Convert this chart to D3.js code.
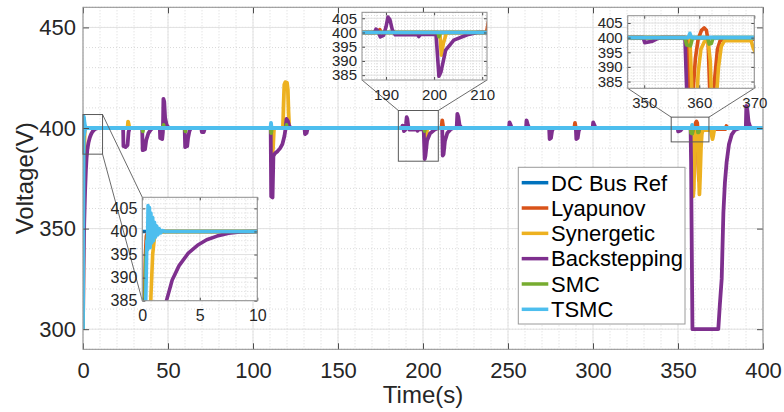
<!DOCTYPE html>
<html>
<head>
<meta charset="utf-8">
<script src="https://cdn.jsdelivr.net/npm/d3@7"></script>
<style>
  html, body { margin: 0; padding: 0; background: #ffffff; }
  svg { display: block; }
</style>
</head>
<body>
<svg id="chart" width="784" height="412"></svg>
<script>
// ---------------- data: DC bus voltage (V) against time (s) ----------------
const seriesNames = ["DC Bus Ref", "Lyapunov", "Synergetic", "Backstepping", "SMC", "TSMC"];

const dcBusRef = [[0, 400], [400, 400]];

const lyapunov = [
  [0, 300], [0.12, 365], [0.2, 385], [0.27, 395], [0.35, 399], [0.5, 400],
  [188.4, 400], [188.7, 401], [189.0, 400],
  [210.9, 400], [211.3, 403.8], [211.8, 401], [212.4, 400],
  [289.0, 400], [289.4, 402.5], [289.9, 400],
  [357.9, 400], [358.2, 384], [358.5, 376], [358.9, 382], [359.3, 393], [359.8, 399.5],
  [360.4, 402.5], [360.9, 403.3], [361.3, 402.5], [361.6, 399], [361.9, 382], [362.3, 374],
  [362.8, 386], [363.3, 396], [363.8, 399], [365, 399.5], [378, 399.5], [378.5, 401], [379, 400],
  [400, 400]
];

const synergetic = [
  [0, 300], [0.5, 362], [0.75, 386], [0.9, 395], [1.05, 398.5], [1.3, 400],
  [26.2, 400], [26.5, 403.2], [26.9, 402], [27.3, 400],
  [110.5, 400], [110.9, 392], [111.3, 387], [111.8, 390], [112.3, 399], [112.8, 400],
  [117.6, 400], [118.0, 412], [118.4, 421.5], [119, 422.8], [120, 422.5], [120.5, 419],
  [120.9, 408], [121.3, 401], [121.8, 400],
  [130.4, 400], [130.7, 398.5], [131.1, 400],
  [201.2, 400], [201.5, 392], [201.9, 396], [202.5, 399.5], [203, 400],
  [358.3, 400], [358.6, 385], [358.9, 366], [359.3, 370], [359.8, 388], [360.3, 396],
  [360.9, 398.5], [361.6, 399], [362.0, 392], [362.3, 376], [362.6, 367], [363.0, 376],
  [363.5, 390], [364.0, 397], [364.6, 399], [369.4, 399], [369.8, 396.5], [370.3, 394.5],
  [370.8, 396.5], [371.4, 399.5], [372, 400],
  [400, 400]
];

const backstepping = [
  [0, 300], [0.3, 330], [0.7, 352], [1.2, 368], [1.7, 379], [2.1, 385], [2.6, 389.5],
  [3.2, 392.6], [4.0, 395.3], [4.8, 397], [5.6, 398.2], [6.5, 399], [7.5, 399.6], [8.5, 399.9], [10, 400],
  [23.6, 400], [23.8, 391], [25, 390.5], [26.2, 391.5], [26.8, 398], [27.5, 400],
  [34.8, 400], [35.1, 389], [36.5, 389.5], [37.2, 394], [38.5, 397.5], [40, 399.3], [41, 400],
  [45.2, 400], [45.4, 395], [46.6, 394.5], [47.0, 398], [47.3, 414.5], [47.8, 413], [48.3, 405],
  [49.2, 401.5], [50.5, 400],
  [59.8, 400], [60.1, 390.5], [61.3, 391], [61.8, 395], [62.6, 398.5], [63.5, 400],
  [69.6, 400], [69.9, 398], [71, 398], [71.6, 399.5], [72.2, 400],
  [110.4, 400], [110.7, 366], [111.5, 365.5], [112.0, 386], [113, 387.5], [114.5, 388.5],
  [116, 390], [117.3, 392], [118.5, 396], [119.2, 400], [119.7, 404.5], [120.5, 403.5],
  [121.3, 401], [122.2, 400],
  [130.3, 400], [130.6, 397], [131.5, 397.5], [132.2, 400],
  [187.6, 400], [187.9, 401.2], [188.3, 400.5], [188.8, 398.5], [189.5, 399], [190.0, 402],
  [190.4, 405.4], [190.8, 404.5], [191.3, 401], [191.9, 399.2], [196.5, 399.3], [196.8, 398.6],
  [197.2, 399.3], [200.4, 399.3], [200.7, 392], [201.0, 384.6], [201.4, 386], [202.4, 393.8],
  [204.1, 397.3], [206.9, 399.2], [209, 400],
  [211.3, 400], [211.6, 386.3], [212.1, 387], [212.9, 393.5], [214.3, 397.5], [216.2, 399.3], [217.7, 400],
  [219.8, 400], [220.2, 407], [220.8, 405.5], [221.5, 401.5], [222.5, 400.2], [223.5, 400],
  [250.6, 400], [250.9, 402.8], [251.6, 401.5], [252.2, 400],
  [260.6, 400], [260.9, 403.8], [261.6, 401.8], [262.4, 400],
  [274.2, 400], [274.5, 394.5], [275.3, 395], [275.9, 398.5], [276.7, 400],
  [289.9, 400], [290.2, 394.5], [291, 395], [291.6, 398.5], [292.4, 400],
  [299.8, 400], [300.1, 402.8], [300.8, 401.5], [301.5, 400],
  [349.8, 400], [350.1, 398.3], [351.5, 398.8], [352.3, 399.6], [353, 400],
  [357.4, 400], [357.7, 383], [358.1, 340], [358.5, 300], [373.7, 300], [374.6, 312],
  [375.7, 325], [376.7, 358], [377.6, 373], [378.6, 383], [380, 392], [381.6, 396.7],
  [383.5, 399], [386.5, 400],
  [389.9, 400], [390.2, 411], [390.8, 409], [391.5, 403], [392.5, 400.5], [393.5, 400],
  [400, 400]
];

const smc = [
  [0, 300], [0.15, 375], [0.3, 394], [0.45, 399], [0.7, 400],
  [35.0, 400], [35.2, 398.3], [35.5, 400],
  [47.2, 400], [47.4, 401.5], [47.7, 400],
  [60.0, 400], [60.2, 398.3], [60.5, 400],
  [110.5, 400], [110.7, 397.5], [111.0, 400],
  [119.5, 400], [119.7, 401.5], [120.0, 400],
  [200.8, 400], [201.0, 398.5], [201.3, 400],
  [357.4, 400], [357.7, 397.5], [358.4, 397.2], [358.8, 400],
  [361.5, 400], [361.8, 397.8], [362.2, 398], [362.5, 400],
  [400, 400]
];

const tsmc = [
  [0, 300], [0.3, 385], [0.4, 398], [0.45, 396], [0.5, 405.6], [0.55, 397], [0.62, 405.2],
  [0.68, 396.5], [0.75, 404], [0.82, 397.5], [0.9, 403], [0.98, 398], [1.06, 402],
  [1.15, 398.8], [1.25, 401.2], [1.35, 399.3], [1.48, 400.6], [1.6, 399.7], [1.75, 400.2], [2, 400],
  [110.3, 400], [110.6, 402.5], [110.9, 400],
  [358.0, 400], [358.3, 401.5], [358.6, 400],
  [400, 400]
];

// tick values
const mainXTicks = [0, 50, 100, 150, 200, 250, 300, 350, 400];
const mainYTicks = [300, 350, 400, 450];
const insetYTicks = [385, 390, 395, 400, 405];
const inset1XTicks = [0, 5, 10];
const inset2XTicks = [190, 200, 210];
const inset3XTicks = [350, 360, 370];

// zoomed windows: [t0, t1] and [v0, v1]
const zoom1Time = [0, 10], zoom1Volt = [385, 407.4];
const zoom2Time = [185, 211], zoom2Volt = [383.3, 407.1];
const zoom3Time = [347, 370], zoom3Volt = [382.7, 407.5];
// outlines marked on the main axes
const mark1Time = [0, 11.5], mark1Volt = [387, 406.7];
const mark2Time = [185.5, 209], mark2Volt = [383.5, 408.7];
const mark3Time = [346, 368.2], mark3Volt = [393.1, 405.4];

// ---------------- styling ----------------
const FONT = '"Liberation Sans", Arial, Helvetica, sans-serif';
const colors = {
  "DC Bus Ref": "#0072BD",
  "Lyapunov": "#D95319",
  "Synergetic": "#EDB120",
  "Backstepping": "#7E2F8E",
  "SMC": "#77AC30",
  "TSMC": "#4DBEEE"
};
const seriesData = [dcBusRef, lyapunov, synergetic, backstepping, smc, tsmc];
const series = seriesNames.map((name, i) => ({ name, data: seriesData[i] }));

const svg = d3.select("#chart");
svg.append("rect").attr("width", 784).attr("height", 412).attr("fill", "#fff");

function drawPanel(cfg) {
  const b = cfg.box;
  const x = d3.scaleLinear().domain(cfg.xDomain).range([b.left, b.right]);
  const y = d3.scaleLinear().domain(cfg.yDomain).range([b.bottom, b.top]);
  const g = svg.append("g");

  g.append("rect")
    .attr("x", b.left).attr("y", b.top)
    .attr("width", b.right - b.left).attr("height", b.bottom - b.top)
    .attr("fill", "#fff");

  // minor grid (dotted)
  const grid = g.append("g");
  grid.selectAll("line.mx").data(cfg.xMinor).join("line").attr("class", "mx")
    .attr("x1", d => x(d)).attr("x2", d => x(d))
    .attr("y1", b.top).attr("y2", b.bottom)
    .attr("stroke", "#cfcfcf").attr("stroke-width", 0.8).attr("stroke-dasharray", "1,2");
  grid.selectAll("line.my").data(cfg.yMinor).join("line").attr("class", "my")
    .attr("y1", d => y(d)).attr("y2", d => y(d))
    .attr("x1", b.left).attr("x2", b.right)
    .attr("stroke", "#cfcfcf").attr("stroke-width", 0.8).attr("stroke-dasharray", "1,2");
  // major grid
  grid.selectAll("line.Mx").data(cfg.xTicks).join("line").attr("class", "Mx")
    .attr("x1", d => x(d)).attr("x2", d => x(d))
    .attr("y1", b.top).attr("y2", b.bottom)
    .attr("stroke", "#e2e2e2").attr("stroke-width", 1);
  grid.selectAll("line.My").data(cfg.yTicks).join("line").attr("class", "My")
    .attr("y1", d => y(d)).attr("y2", d => y(d))
    .attr("x1", b.left).attr("x2", b.right)
    .attr("stroke", "#e2e2e2").attr("stroke-width", 1);

  // series, clipped to the axes
  g.append("clipPath").attr("id", "clip-" + cfg.id)
    .append("rect")
    .attr("x", b.left).attr("y", b.top)
    .attr("width", b.right - b.left).attr("height", b.bottom - b.top);
  const lg = g.append("g").attr("clip-path", `url(#clip-${cfg.id})`);
  const line = d3.line().x(d => x(d[0])).y(d => y(d[1]));
  series.forEach(s => {
    lg.append("path").datum(s.data)
      .attr("d", line)
      .attr("fill", "none")
      .attr("stroke", colors[s.name])
      .attr("stroke-width", cfg.lineWidth)
      .attr("stroke-linejoin", "round")
      .attr("stroke-linecap", "butt");
  });

  // ticks point inward on all four sides
  const tl = cfg.tickLen;
  const styleAxis = (sel, labels) => {
    sel.select(".domain").remove();
    sel.selectAll(".tick line").attr("stroke", "#4d4d4d").attr("stroke-width", 1);
    sel.selectAll(".tick text")
      .attr("font-family", FONT).attr("font-size", cfg.fontSize)
      .attr("fill", "#262626");
    if (!labels) sel.selectAll(".tick text").remove();
  };
  g.append("g").attr("transform", `translate(0,${b.bottom})`)
    .call(d3.axisBottom(x).tickValues(cfg.xTicks).tickFormat(d3.format("d"))
      .tickSizeInner(-tl).tickSizeOuter(0).tickPadding(cfg.xPad))
    .call(s => styleAxis(s, true));
  g.append("g").attr("transform", `translate(0,${b.top})`)
    .call(d3.axisTop(x).tickValues(cfg.xTicks).tickSizeInner(-tl).tickSizeOuter(0))
    .call(s => styleAxis(s, false));
  g.append("g").attr("transform", `translate(${b.left},0)`)
    .call(d3.axisLeft(y).tickValues(cfg.yTicks).tickFormat(d3.format("d"))
      .tickSizeInner(-tl).tickSizeOuter(0).tickPadding(cfg.yPad))
    .call(s => styleAxis(s, true));
  g.append("g").attr("transform", `translate(${b.right},0)`)
    .call(d3.axisRight(y).tickValues(cfg.yTicks).tickSizeInner(-tl).tickSizeOuter(0))
    .call(s => styleAxis(s, false));

  g.append("rect")
    .attr("x", b.left).attr("y", b.top)
    .attr("width", b.right - b.left).attr("height", b.bottom - b.top)
    .attr("fill", "none").attr("stroke", "#8f8f8f").attr("stroke-width", 1);

  return { x, y, box: b };
}

// ---------------- main axes ----------------
const main = drawPanel({
  id: "main",
  box: { left: 83, right: 763, top: 7.3, bottom: 349.3 },
  xDomain: [0, 400], yDomain: [290, 460],
  xTicks: mainXTicks, yTicks: mainYTicks,
  xMinor: d3.range(0, 401, 10), yMinor: d3.range(290, 461, 10),
  lineWidth: 3.8, tickLen: 6, fontSize: 22, xPad: 13, yPad: 7
});

svg.append("text")
  .attr("x", (83 + 763) / 2).attr("y", 403)
  .attr("text-anchor", "middle")
  .attr("font-family", FONT).attr("font-size", 24).attr("fill", "#262626")
  .text("Time(s)");
svg.append("text")
  .attr("transform", `translate(33,${(7.3 + 349.3) / 2}) rotate(-90)`)
  .attr("text-anchor", "middle")
  .attr("font-family", FONT).attr("font-size", 24).attr("fill", "#262626")
  .text("Voltage(V)");

// ---------------- zoom outlines and connectors ----------------
function markRect(tr, vr) {
  const x0 = main.x(tr[0]), x1 = main.x(tr[1]);
  const y0 = main.y(vr[1]), y1 = main.y(vr[0]);
  svg.append("rect")
    .attr("x", x0).attr("y", y0).attr("width", x1 - x0).attr("height", y1 - y0)
    .attr("fill", "none").attr("stroke", "#5a5a5a").attr("stroke-width", 1);
  return { left: x0, right: x1, top: y0, bottom: y1 };
}
function connector(p, q) {
  svg.append("line")
    .attr("x1", p[0]).attr("y1", p[1]).attr("x2", q[0]).attr("y2", q[1])
    .attr("stroke", "#5a5a5a").attr("stroke-width", 0.9);
}

const box1 = { left: 142.3, right: 257.3, top: 197.3, bottom: 300.7 };
const box2 = { left: 362, right: 487, top: 12.3, bottom: 80 };
const box3 = { left: 627.7, right: 754.3, top: 15.7, bottom: 88.3 };

const m1 = markRect(mark1Time, mark1Volt);
const m2 = markRect(mark2Time, mark2Volt);
const m3 = markRect(mark3Time, mark3Volt);

connector([m1.right, m1.top], [box1.left, box1.top]);
connector([m1.right, m1.bottom], [box1.left, box1.bottom]);
connector([m2.left, m2.top], [box2.left, box2.bottom]);
connector([m2.right, m2.top], [box2.right, box2.bottom]);
connector([m3.left, m3.top], [box3.left, box3.bottom]);
connector([m3.right, m3.top], [box3.right, box3.bottom]);

// ---------------- inset axes ----------------
drawPanel({
  id: "z1", box: box1,
  xDomain: zoom1Time, yDomain: zoom1Volt,
  xTicks: inset1XTicks, yTicks: insetYTicks,
  xMinor: d3.range(0, 10.01, 1), yMinor: d3.range(385, 407.5, 1),
  lineWidth: 3.6, tickLen: 3, fontSize: 16, xPad: 9, yPad: 5
});
drawPanel({
  id: "z2", box: box2,
  xDomain: zoom2Time, yDomain: zoom2Volt,
  xTicks: inset2XTicks, yTicks: insetYTicks,
  xMinor: d3.range(186, 211, 2), yMinor: d3.range(384, 407.2, 1),
  lineWidth: 3.6, tickLen: 3, fontSize: 15, xPad: 9, yPad: 5
});
drawPanel({
  id: "z3", box: box3,
  xDomain: zoom3Time, yDomain: zoom3Volt,
  xTicks: inset3XTicks, yTicks: insetYTicks,
  xMinor: d3.range(348, 370.1, 2), yMinor: d3.range(383, 407.6, 1),
  lineWidth: 3.6, tickLen: 3, fontSize: 15, xPad: 9, yPad: 5
});

// ---------------- legend ----------------
const legend = svg.append("g");
legend.append("rect")
  .attr("x", 518.3).attr("y", 167.3).attr("width", 166.7).attr("height", 156.7)
  .attr("fill", "#fff").attr("stroke", "#9a9a9a").attr("stroke-width", 1);
const legendY = d3.scaleLinear().domain([0, 5]).range([182.7, 309.3]);
series.forEach((s, i) => {
  const cy = legendY(i);
  legend.append("line")
    .attr("x1", 521.7).attr("x2", 548.3).attr("y1", cy).attr("y2", cy)
    .attr("stroke", colors[s.name]).attr("stroke-width", 3.5);
  legend.append("text")
    .attr("x", 551).attr("y", cy + 7.8)
    .attr("font-family", FONT).attr("font-size", 22).attr("fill", "#000")
    .text(s.name);
});
</script>
</body>
</html>
